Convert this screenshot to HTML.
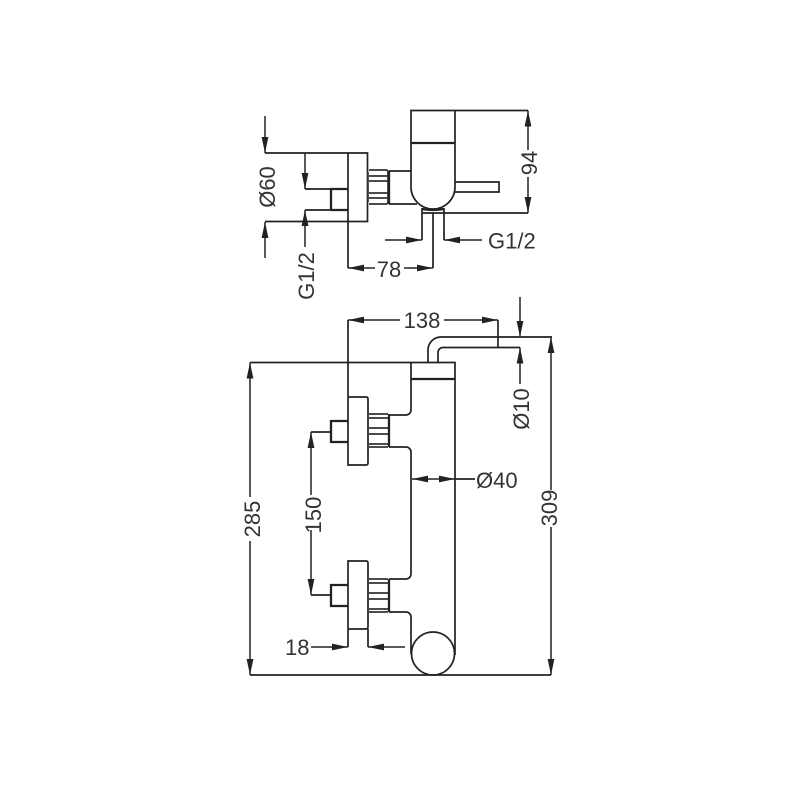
<!DOCTYPE html>
<html>
<head>
<meta charset="utf-8">
<style>
html,body{margin:0;padding:0;background:#fff;width:800px;height:800px;overflow:hidden}
svg{display:block}
text{font-family:"Liberation Sans",sans-serif;font-size:22px;fill:#333}
.l{fill:none;stroke:#222;stroke-width:1.7}
.t{fill:none;stroke:#222;stroke-width:2.3}
.n{fill:none;stroke:#333;stroke-width:1.7}
.a{fill:none;stroke:#222;stroke-width:1.5;marker-end:url(#m)}
</style>
</head>
<body>
<svg width="800" height="800" viewBox="0 0 800 800" xmlns="http://www.w3.org/2000/svg">
<defs>
<marker id="m" markerUnits="userSpaceOnUse" markerWidth="17" markerHeight="8" refX="16" refY="4" orient="auto">
<path d="M0 .6L16 4L0 7.400Z" fill="#222"/>
</marker>
</defs>

<!-- TOP VIEW -->
<path class="l" d="M528 110.500H411V187A22 22 0 0 0 455 187V110.500"/>
<path class="t" d="M411 143H455"/>
<path class="l" d="M455 182H499V192H455"/>
<path class="l" d="M422 213H528M422 208V240M444 208V240"/>
<path class="t" d="M422 209Q433 211 444 209"/>
<path class="l" d="M433 213V268"/>
<!-- plate -->
<path class="l" d="M265 153H367.500V221.500H265M348 153V268"/>
<path class="t" d="M331 210V189H348M331 210H348"/>
<path class="l" d="M305 189H331M305 210H331"/>
<!-- nut -->
<path class="n" d="M368 172V202M369 170H386Q388 170 388 172V202Q388 204 386 204H369M369 176H388M369 181H388M369 193H388M369 198H388"/>
<path class="t" d="M389 171V204"/>
<path class="l" d="M389 171H411M389 204H417"/>
<!-- top dims -->
<path class="a" d="M265 116V153"/>
<path class="a" d="M265 258V222"/>
<path class="a" d="M305 153V189"/>
<path class="a" d="M305 247V210"/>
<path class="a" d="M385 240H422"/>
<path class="a" d="M482 240H444"/>
<path class="a" d="M375 268H348"/>
<path class="a" d="M404 268H433"/>
<path class="a" d="M528 150V110.500"/>
<path class="a" d="M528 177V213"/>
<text x="488" y="248.500">G1/2</text>
<text x="389" y="277" text-anchor="middle">78</text>
<text transform="translate(537 163) rotate(-90)" text-anchor="middle">94</text>
<text transform="translate(275 187) rotate(-90)" text-anchor="middle">Ø60</text>
<text transform="translate(314 276) rotate(-90)" text-anchor="middle">G1/2</text>

<!-- FRONT VIEW -->
<path class="l" d="M552 337H441A13 13 0 0 0 428 350V362.500M520 347.500H443A5 5 0 0 0 438 352.500V362.500"/>
<path class="l" d="M498 320V347.500"/>
<path class="l" d="M250 362.500H455V655"/>
<path class="t" d="M411 379H455"/>
<path class="l" d="M411 362.500V410A5 5 0 0 1 406 415H389M389 447H406A5 5 0 0 1 411 452V574A5 5 0 0 1 406 579H389M389 612H406A5 5 0 0 1 411 617V654"/>
<circle class="l" cx="433" cy="653.500" r="21.500"/>
<path class="l" d="M250 675H551"/>
<!-- plates -->
<path class="l" d="M348 320V465H366Q368 465 368 463V399Q368 397 366 397H348"/>
<path class="l" d="M348 561H366Q368 561 368 563V627Q368 629 366 629H348ZM348 629V647M368 629V647"/>
<!-- stubs -->
<path class="t" d="M348 421H331V442H348"/>
<path class="t" d="M348 585H331V606H348"/>
<!-- nuts -->
<path class="n" d="M369 414H388M369 418H388M369 428H388M369 434H388M369 444H388M369 447H388"/>
<path class="t" d="M389 414V447"/>
<path class="n" d="M369 579H388M369 583H388M369 593H388M369 599H388M369 609H388M369 612H388"/>
<path class="t" d="M389 579V612"/>
<!-- front dims -->
<path class="a" d="M400 320H348"/>
<path class="a" d="M444 320H498"/>
<path class="a" d="M520 297V337"/>
<path class="a" d="M520 384V347.500"/>
<path class="l" d="M311 432H331M311 595H331"/>
<path class="a" d="M311 495V432"/>
<path class="a" d="M311 530V595"/>
<path class="a" d="M433 479H412"/>
<path class="a" d="M433 479H455"/>
<path class="l" d="M455 479H475"/>
<path class="a" d="M250 497V362.500"/>
<path class="a" d="M250 541V675"/>
<path class="a" d="M551 490V337"/>
<path class="a" d="M551 527V675"/>
<path class="a" d="M311 647H348"/>
<path class="a" d="M405 647H368"/>
<text x="422" y="328" text-anchor="middle">138</text>
<text x="476" y="488">Ø40</text>
<text x="285" y="655">18</text>
<text transform="translate(529 409) rotate(-90)" text-anchor="middle">Ø10</text>
<text transform="translate(321 515) rotate(-90)" text-anchor="middle">150</text>
<text transform="translate(260 519) rotate(-90)" text-anchor="middle">285</text>
<text transform="translate(557 508) rotate(-90)" text-anchor="middle">309</text>
</svg>
</body>
</html>
